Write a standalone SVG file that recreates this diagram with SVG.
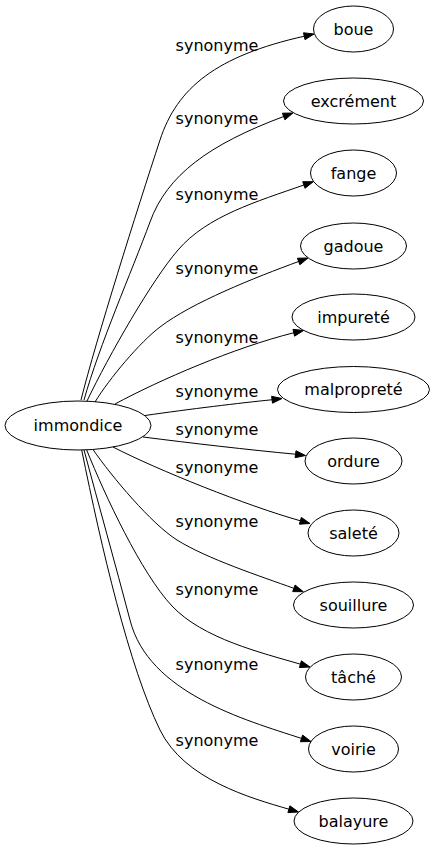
<svg xmlns="http://www.w3.org/2000/svg" width="436" height="851" viewBox="0 0 436 851">
<style>
.n ellipse{fill:none;stroke:#000;stroke-width:1}
.n text,.lbl text{font-family:"DejaVu Sans",sans-serif;font-size:16px;fill:#000;text-anchor:middle}
.e path{fill:none;stroke:#000;stroke-width:1}
.e polygon{fill:#000;stroke:#000;stroke-width:1}
</style>
<rect width="436" height="851" fill="#fff"/>
<g id="connectors" class="e">
<path d="M81,400 C96,340 137,210 160,140 C177,88 216,56 304.25,36.22"/>
<polygon points="314,34 305,39.63 303.5,32.81"/>
<path d="M84,400 C99.4,345 131.5,272 150,222 C167,175 209,144.5 283.64,116.5"/>
<polygon points="293,113 284.9,119.8 282.4,113.2"/>
<path d="M87,401 C109,355 152,280 178,250 C207,216 257,201.5 303.86,185"/>
<polygon points="313.3,181.7 305,188.3 302.7,181.7"/>
<path d="M95,402 C109,379 140,342 160,327 C191.6,302.6 255.5,277.3 298.64,261.5"/>
<polygon points="308,258 299.9,264.8 297.4,258.2"/>
<path d="M115,404 C159.5,380 233.9,347.8 293.76,332.75"/>
<polygon points="303.5,330.5 294.55,336.16 292.97,329.34"/>
<path d="M145,415.5 C190,409 240,403 272.08,399.75"/>
<polygon points="282,398.5 272.5,403.2 271.6,396.3"/>
<path d="M143,437 C190,443 250,450 295.58,454.22"/>
<polygon points="305.5,455.5 295.1,457.7 296,450.75"/>
<path d="M113,447 C157.5,470 247.4,505.9 300.37,520.79"/>
<polygon points="310,523.5 299.42,524.16 301.32,517.42"/>
<path d="M93,449.5 C112,477 151.6,524 177,540 C206.6,558.6 261,576.5 293.88,588.33"/>
<polygon points="303.3,591.7 292.7,591.6 295.1,585"/>
<path d="M86.7,450 C105,495.5 141.2,573.2 172,606 C202.8,638.8 262.05,652.9 300.41,664.18"/>
<polygon points="310,667 299.42,667.54 301.4,660.82"/>
<path d="M84,450 C99,506 115,563 130,620 C148.2,692.75 244.4,719.8 301.49,738.4"/>
<polygon points="311,741.5 300.4,741.73 302.58,735.07"/>
<path d="M81.7,450 C101.3,547 129.2,667 160,730 C184.2,779.5 250.5,798 288.9,809.2"/>
<polygon points="298.5,812 287.9,812.6 289.9,805.8"/>
</g>
<g id="edge-labels" class="lbl">
<text x="217" y="50.5">synonyme</text>
<text x="217" y="124">synonyme</text>
<text x="217" y="200">synonyme</text>
<text x="217" y="274">synonyme</text>
<text x="217" y="343">synonyme</text>
<text x="217" y="397">synonyme</text>
<text x="217" y="435">synonyme</text>
<text x="217" y="473">synonyme</text>
<text x="217" y="527">synonyme</text>
<text x="217" y="595">synonyme</text>
<text x="217" y="670">synonyme</text>
<text x="217" y="746">synonyme</text>
</g>
<g id="immondice" class="n"><ellipse cx="78" cy="425.5" rx="73" ry="24.5"/><text x="78" y="431">immondice</text></g>
<g id="boue" class="n"><ellipse cx="353.5" cy="29" rx="40" ry="23"/><text x="353.5" y="34.5">boue</text></g>
<g id="excrement" class="n"><ellipse cx="353.5" cy="101" rx="70" ry="23"/><text x="353.5" y="106.5">excrément</text></g>
<g id="fange" class="n"><ellipse cx="353.5" cy="173" rx="43" ry="23"/><text x="353.5" y="178.5">fange</text></g>
<g id="gadoue" class="n"><ellipse cx="353.5" cy="246" rx="53" ry="23"/><text x="353.5" y="251.5">gadoue</text></g>
<g id="impurete" class="n"><ellipse cx="353.5" cy="317" rx="61.5" ry="23"/><text x="353.5" y="322.5">impureté</text></g>
<g id="malproprete" class="n"><ellipse cx="353.5" cy="389.5" rx="76" ry="23"/><text x="353.5" y="395">malpropreté</text></g>
<g id="ordure" class="n"><ellipse cx="353.5" cy="461" rx="48.5" ry="23"/><text x="353.5" y="466.5">ordure</text></g>
<g id="salete" class="n"><ellipse cx="353.5" cy="533" rx="45.5" ry="23"/><text x="353.5" y="538.5">saleté</text></g>
<g id="souillure" class="n"><ellipse cx="353.5" cy="605" rx="60" ry="23"/><text x="353.5" y="610.5">souillure</text></g>
<g id="tache" class="n"><ellipse cx="353.5" cy="677" rx="48" ry="23"/><text x="353.5" y="682.5">tâché</text></g>
<g id="voirie" class="n"><ellipse cx="353.5" cy="749" rx="45" ry="23"/><text x="353.5" y="754.5">voirie</text></g>
<g id="balayure" class="n"><ellipse cx="353.5" cy="821" rx="59.5" ry="23"/><text x="353.5" y="826.5">balayure</text></g>
</svg>
